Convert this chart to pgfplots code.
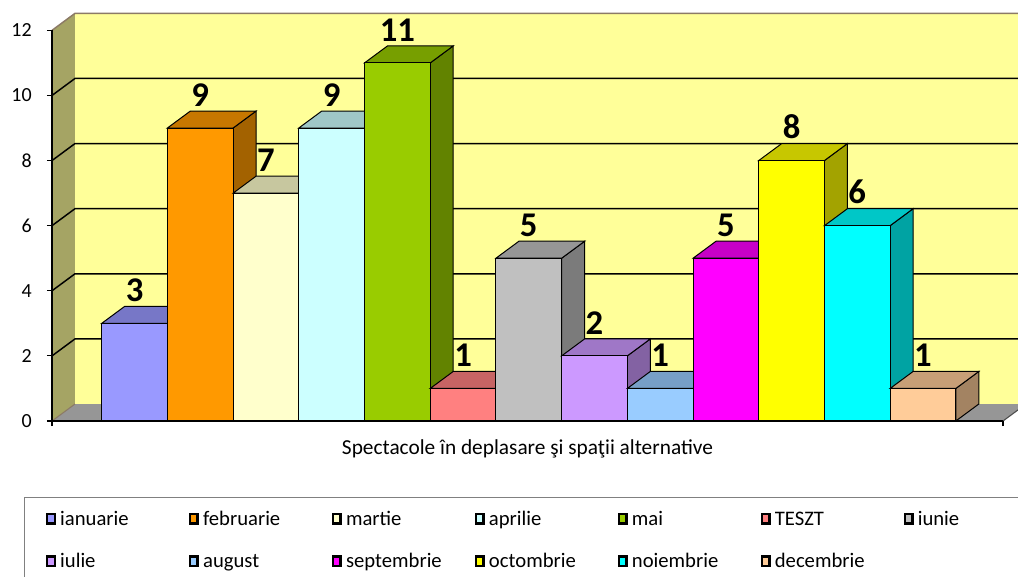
\documentclass[border=0pt]{standalone}
\usepackage{fontspec}
\setmainfont{Carlito}
\usepackage{pgfplots}
\pgfplotsset{compat=1.18}

\definecolor{c1}{HTML}{9999FF}
\definecolor{c2}{HTML}{FF9900}
\definecolor{c3}{HTML}{FFFFCC}
\definecolor{c4}{HTML}{CCFFFF}
\definecolor{c5}{HTML}{99CC00}
\definecolor{c6}{HTML}{FF8080}
\definecolor{c7}{HTML}{C0C0C0}
\definecolor{c8}{HTML}{CC99FF}
\definecolor{c9}{HTML}{99CCFF}
\definecolor{c10}{HTML}{FF00FF}
\definecolor{c11}{HTML}{FFFF00}
\definecolor{c12}{HTML}{00FFFF}
\definecolor{c13}{HTML}{FFCC99}
\definecolor{sidewall}{HTML}{A5A464}
\definecolor{backwall}{HTML}{FFFF99}
\definecolor{floorc}{HTML}{969696}
\definecolor{walledge}{HTML}{8C7A66}

\def\XMIN{-1.257}
\def\XMAX{13.218}
\def\DX{0.35}
\def\DY{0.522}
\def\XBL{-0.907}
\def\XBR{13.568}

\newcommand\leg[2][96.5pt]{\makebox[#1][l]{\rule[-4pt]{0pt}{15.5pt}#2}}

% one 3-D bar: index, value, colour, legend entry
\newcommand\tdbar[4]{%
  \pgfmathsetmacro\xa{#1-0.5}%
  \pgfmathsetmacro\xb{#1+0.5}%
  \pgfmathsetmacro\xc{#1+0.5+\DX}%
  \pgfmathsetmacro\xd{#1-0.5+\DX}%
  \pgfmathsetmacro\yt{#2+\DY}%
  \addplot[fill=#3!64!black, draw=black, line width=0.75pt, forget plot]
     coordinates {(\xb,0) (\xc,\DY) (\xc,\yt) (\xb,#2)} -- cycle;
  \addplot[fill=#3!78!black, draw=black, line width=0.75pt, forget plot]
     coordinates {(\xa,#2) (\xb,#2) (\xc,\yt) (\xd,\yt)} -- cycle;
  \addplot[fill=#3, draw=black, line width=0.75pt]
     coordinates {(\xa,0) (\xb,0) (\xb,#2) (\xa,#2)} -- cycle;
  \addlegendentry{#4}
}

\begin{document}
\begin{tikzpicture}
\begin{axis}[
  scale only axis, width=713.25pt, height=293pt,
  xmin=\XMIN, xmax=\XMAX, ymin=0, ymax=12,
  clip=false, axis on top,
  axis x line*=bottom, axis y line*=left,
  xtick={\XMIN,\XMAX}, xticklabels={},
  ytick={0,2,4,6,8,10,12},
  tick align=outside, major tick length=3.75pt,
  tick style={black, line width=0.8pt},
  x axis line style={black, line width=1.2pt},
  y axis line style={black, line width=1pt},
  /pgf/number format/assume math mode=true,
  yticklabel style={font=\fontsize{15}{18}\selectfont, anchor=east, inner sep=0pt, xshift=-11.25pt},
  xlabel={Spectacole în deplasare şi spaţii alternative},
  xlabel style={font=\fontsize{16}{19}\selectfont, at={(axis description cs:0.5,0)}, anchor=base, yshift=-25pt},
  legend columns=7,
  legend style={at={(axis description cs:0,0)}, anchor=north west,
     xshift=-20.25pt, yshift=-57pt, draw=none, fill=none,
     inner xsep=15.5pt, inner ysep=9.5pt,
     font=\fontsize{15.5}{18}\selectfont, row sep=19pt,
     nodes={inner sep=0pt},
     /tikz/every odd column/.append style={column sep=3.2pt},
     /tikz/every even column/.append style={column sep=0pt}},
  legend image code/.code={\draw[#1, draw=black, line width=1.8pt] (0pt,-3.6pt) rectangle (5.7pt,3.6pt);},
]
% walls and floor
\addplot[fill=backwall, draw=none, forget plot] coordinates {(\XBL,0.522) (13.9,0.522) (13.9,12.522) (\XBL,12.522)} -- cycle;
\addplot[fill=sidewall, draw=none, forget plot] coordinates {(\XMIN,0) (\XBL,0.522) (\XBL,12.522) (\XMIN,12)} -- cycle;
\addplot[fill=floorc, draw=none, forget plot] coordinates {(\XMIN,0) (\XMAX,0) (\XBR,0.522) (\XBL,0.522)} -- cycle;
% grid lines
\addplot[black, line width=1.1pt, forget plot] coordinates {(\XMIN,2) (\XBL,2.522) (13.9,2.522)};
\addplot[black, line width=1.1pt, forget plot] coordinates {(\XMIN,4) (\XBL,4.522) (13.9,4.522)};
\addplot[black, line width=1.1pt, forget plot] coordinates {(\XMIN,6) (\XBL,6.522) (13.9,6.522)};
\addplot[black, line width=1.1pt, forget plot] coordinates {(\XMIN,8) (\XBL,8.522) (13.9,8.522)};
\addplot[black, line width=1.1pt, forget plot] coordinates {(\XMIN,10) (\XBL,10.522) (13.9,10.522)};
\addplot[walledge, line width=1.1pt, forget plot] coordinates {(\XMIN,12) (\XBL,12.522) (13.9,12.522)};
\addplot[walledge, line width=0.8pt, forget plot] coordinates {(\XMIN,0) (\XBL,0.522)};
\addplot[black!70, line width=0.8pt, forget plot] coordinates {(\XMAX,0) (\XBR,0.522)};
% bars
\tdbar{0}{3}{c1}{\leg{ianuarie}}
\tdbar{1}{9}{c2}{\leg{februarie}}
\tdbar{2}{7}{c3}{\leg{martie}}
\tdbar{3}{9}{c4}{\leg{aprilie}}
\tdbar{4}{11}{c5}{\leg{mai}}
\tdbar{5}{1}{c6}{\leg{TESZT}}
\tdbar{6}{5}{c7}{\leg{iunie}}
\tdbar{7}{2}{c8}{\leg{iulie}}
\tdbar{8}{1}{c9}{\leg{august}}
\tdbar{9}{5}{c10}{\leg{septembrie}}
\tdbar{10}{8}{c11}{\leg{octombrie}}
\tdbar{11}{6}{c12}{\leg{noiembrie}}
\tdbar{12}{1}{c13}{\leg{decembrie}}
% value labels
\addplot[draw=none, mark=none, forget plot, point meta=y,
  nodes near coords,
  every node near coord/.append style={anchor=south, yshift=16pt, inner sep=0pt,
    font=\fontsize{26}{30}\selectfont\bfseries}]
  coordinates {(0,3) (1,9) (2,7) (3,9) (4,11) (5,1) (6,5) (7,2) (8,1) (9,5) (10,8) (11,6) (12,1)};
% legend frame (runs past the page edges, as in the reference)
\draw[black!50, line width=0.75pt]
  ([shift={(-20.25pt,-160pt)}]axis description cs:0,0) --
  ([shift={(-20.25pt,-57pt)}]axis description cs:0,0) --
  ([shift={(800pt,-57pt)}]axis description cs:0,0);
\end{axis}
\pgfresetboundingbox
\path[use as bounding box] (-39pt,-116.25pt) rectangle (724.5pt,315.75pt);
\end{tikzpicture}
\end{document}
